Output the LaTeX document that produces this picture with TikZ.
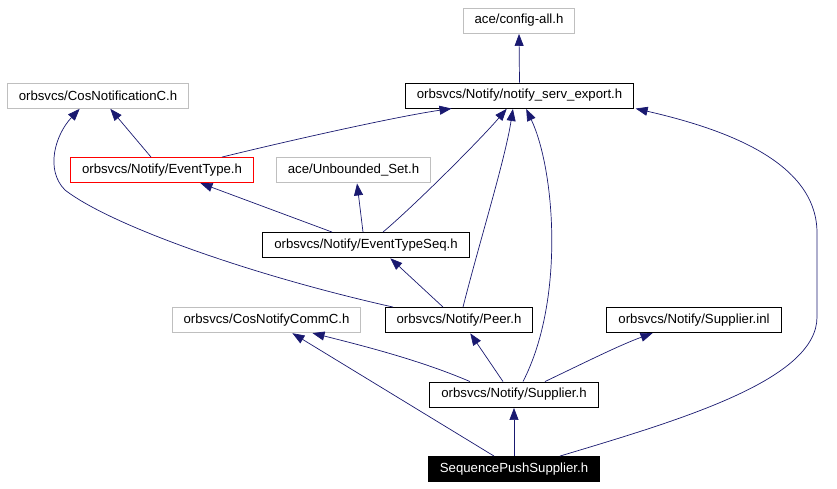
\documentclass[tikz,border=0pt]{standalone}
\usepackage{fontspec}
\setmainfont{Liberation Sans}
\usetikzlibrary{arrows.meta}
\definecolor{incblue}{RGB}{25,25,112}
\definecolor{boxgray}{RGB}{191,191,191}
\tikzset{
  file/.style={draw=black, line width=0.9pt, inner xsep=11.5pt, inner ysep=0pt, minimum height=25pt, font=\fontsize{13.2}{15}\selectfont},
  extfile/.style={file, draw=boxgray},
  cutfile/.style={file, draw=red},
  topfile/.style={file, fill=black, text=white},
  inc/.style={draw=incblue, line width=0.7pt, -{Triangle[length=12pt,width=9pt]}, shorten >=0.5pt}
}
\begin{document}
\begin{tikzpicture}[x=1pt,y=-1pt]
  \useasboundingbox (0,0) rectangle (837,488);
  % Define the files
  \node[extfile] (config) at (519,20.5) {ace/config-all.h};
  \node[file] (export) at (519.5,95.5) {orbsvcs/Notify/notify\_serv\_export.h};
  \node[extfile] (cosnotif) at (98,95.5) {orbsvcs/CosNotificationC.h};
  \node[cutfile] (evtype) at (162,170) {orbsvcs/Notify/EventType.h};
  \node[extfile] (uset) at (353.5,170) {ace/Unbounded\_Set.h};
  \node[file] (evseq) at (366,245) {orbsvcs/Notify/EventTypeSeq.h};
  \node[extfile] (comm) at (266.5,320) {orbsvcs/CosNotifyCommC.h};
  \node[file] (peer) at (459,320) {orbsvcs/Notify/Peer.h};
  \node[file] (inl) at (694,320) {orbsvcs/Notify/Supplier.inl};
  \node[file] (supplier) at (514,394.5) {orbsvcs/Notify/Supplier.h};
  \node[topfile] (seqpush) at (514,469) {SequencePushSupplier.h};
  % Add the includes
  \draw[inc] (export.north) -- (config.south);
  \draw[inc] ([xshift=-11pt]evtype.north) -- ([xshift=12pt]cosnotif.south);
  \draw[inc] ([xshift=60pt]evtype.north) .. controls (300,138) and (400,116) .. ([xshift=-67.5pt]export.south);
  \draw[inc] ([xshift=-34pt]evseq.north) -- ([xshift=38pt]evtype.south);
  \draw[inc] ([xshift=-3pt]evseq.north) -- ([xshift=3.5pt]uset.south);
  \draw[inc] ([xshift=17pt]evseq.north) .. controls (415,205) and (480,140) .. ([xshift=-12.5pt]export.south);
  \draw[inc] ([xshift=-66pt]peer.north) .. controls (250,275) and (110,225) .. (65,190) .. controls (45,170) and (55,135) .. ([xshift=-18pt]cosnotif.south);
  \draw[inc] ([xshift=-16pt]peer.north) -- ([xshift=24pt]evseq.south);
  \draw[inc] ([xshift=4pt]peer.north) .. controls (480,240) and (505,160) .. ([xshift=-6.5pt]export.south);
  \draw[inc] ([xshift=-44pt]supplier.north) .. controls (420,360) and (360,345) .. ([xshift=45.5pt]comm.south);
  \draw[inc] ([xshift=-11pt]supplier.north) -- ([xshift=11pt]peer.south);
  \draw[inc] ([xshift=31pt]supplier.north) .. controls (590,360) and (620,345) .. ([xshift=-41pt]inl.south);
  \draw[inc] ([xshift=9pt]supplier.north) .. controls (565,300) and (555,170) .. ([xshift=6.5pt]export.south);
  \draw[inc] ([xshift=-20pt]seqpush.north) -- ([xshift=25.5pt]comm.south);
  \draw[inc] (seqpush.north) -- (supplier.south);
  \draw[inc] ([xshift=46pt]seqpush.north) .. controls (680,420) and (817,380) .. (817,317) -- (817,233) .. controls (817,160) and (720,128) .. ([xshift=1pt]export.south east);
\end{tikzpicture}
\end{document}
